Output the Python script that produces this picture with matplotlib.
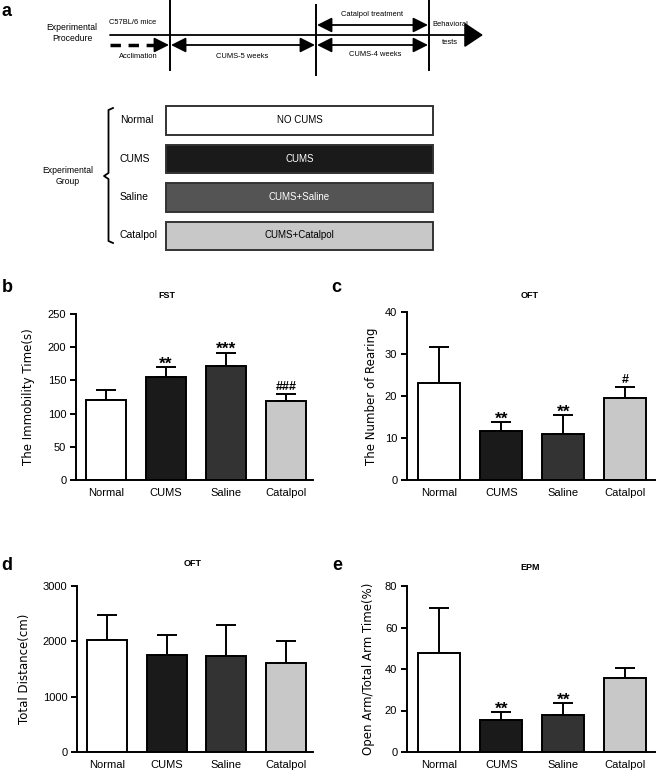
import numpy as np
import matplotlib.pyplot as plt
from matplotlib.patches import FancyArrowPatch, Rectangle

plt.rcParams['font.family'] = ['Liberation Sans', 'DejaVu Sans']
NARROW = ['Liberation Sans Narrow', 'Liberation Sans', 'DejaVu Sans']

W, H = 658, 772

groups = ['Normal', 'CUMS', 'Saline', 'Catalpol']
bar_colors = ['#ffffff', '#1a1a1a', '#333333', '#c8c8c8']

# panel a: experimental groups
box_texts = ['NO CUMS', 'CUMS', 'CUMS+Saline', 'CUMS+Catalpol']
box_colors = ['#ffffff', '#1a1a1a', '#545454', '#c8c8c8']
box_text_colors = ['black', 'white', 'white', 'black']

# panel b: FST immobility time (s)
fst_mean = [120.5, 154.6, 171.7, 118.5]
fst_err = [15.0, 15.1, 20.1, 10.5]
fst_marks = ['', '**', '***', '###']

# panel c: OFT number of rearing
rear_mean = [23.2, 11.7, 11.0, 19.6]
rear_err = [8.4, 2.0, 4.5, 2.5]
rear_marks = ['', '**', '**', '#']

# panel d: OFT total distance (cm)
dist_mean = [2024, 1753, 1735, 1603]
dist_err = [452, 361, 555, 397]
dist_marks = ['', '', '', '']

# panel e: EPM open arm / total arm time (%)
epm_mean = [47.9, 15.4, 17.8, 35.8]
epm_err = [21.3, 3.7, 5.7, 4.8]
epm_marks = ['', '**', '**', '']

fig = plt.figure(figsize=(W / 100, H / 100), dpi=100)

# overlay in pixel coordinates for the scheme, titles and panel letters
ov = fig.add_axes([0, 0, 1, 1])
ov.set_xlim(0, W)
ov.set_ylim(H, 0)
ov.axis('off')


def arrow(p0, p1, style, lw=1.3, ms=10):
    ov.add_patch(FancyArrowPatch(p0, p1, arrowstyle=style, mutation_scale=ms,
                                 lw=lw, color='black', shrinkA=0, shrinkB=0))


# ---- panel a: procedure timeline
arrow((110, 35), (483, 35), '-|>,head_length=0.9,head_width=0.6', ms=13)
for x, y0, y1 in [(170, 0, 70), (316, 5, 75), (429, 0, 70)]:
    ov.plot([x, x], [y0, y1], color='black', lw=1.4)
ov.plot([110, 158], [45, 45], color='black', lw=2.5, ls=(0, (3, 2.2)))
arrow((155, 45), (169, 45), '-|>,head_length=0.9,head_width=0.45')
dbl = '<|-|>,head_length=0.9,head_width=0.45'
arrow((171, 45), (315, 45), dbl)
arrow((317, 45), (428, 45), dbl)
arrow((317, 25), (428, 25), dbl)

ov.text(72, 33, 'Experimental\nProcedure', ha='center', va='center',
        fontsize=6.2, family=NARROW, linespacing=1.4)
for x, y, s in [(133, 22, 'C57BL/6 mice'), (138, 56, 'Acclimation'),
                (242, 56, 'CUMS-5 weeks'), (375, 55, 'CUMS-4 weeks'),
                (372, 15, 'Catalpol treatment'), (450, 25, 'Behavioral'),
                (450, 43, 'tests')]:
    ov.text(x, y, s, ha='center', va='center', fontsize=5.4, family=NARROW)

# ---- panel a: groups
for i, g in enumerate(groups):
    top = 106 + i * 38.5
    ov.add_patch(Rectangle((166, top), 267, 28.5, facecolor=box_colors[i],
                           edgecolor='#333333', lw=1.4))
    ov.text(299.5, top + 14, box_texts[i], ha='center', va='center',
            fontsize=7, color=box_text_colors[i])
    ov.text(120, top + 14, g, ha='left', va='center', fontsize=7.5)

ov.plot([113, 108.5, 108.5, 104, 108.5, 108.5, 113],
        [108, 110, 173, 176, 179, 241, 243], color='black', lw=1.3)
ov.text(68, 176, 'Experimental\nGroup', ha='center', va='center',
        fontsize=6.2, family=NARROW, linespacing=1.4)

# panel letters and titles
for x, y, s in [(7, 12, 'a'), (7, 288, 'b'), (336, 287, 'c'),
                (7, 565, 'd'), (337, 566, 'e')]:
    ov.text(x, y, s, ha='center', va='center', fontsize=13, fontweight='bold')
for x, y, s in [(167, 295, 'FST'), (530, 295, 'OFT'),
                (193, 564, 'OFT'), (530, 567, 'EPM')]:
    ov.text(x, y, s, ha='center', va='center', fontsize=6.5, fontweight='bold')


def px_axes(left, top, right, bottom):
    return fig.add_axes([left / W, 1 - bottom / H, (right - left) / W, (bottom - top) / H])


def bar_panel(ax, means, errs, marks, ymax, step, ylabel, xlim, label_x, width):
    x = np.arange(len(groups))
    ax.set_facecolor('none')
    ax.errorbar(x, means, yerr=[np.zeros(len(x)), errs], fmt='none', ecolor='black',
                elinewidth=1.4, capsize=7, capthick=1.4, zorder=1)
    ax.bar(x, means, width=width, color=bar_colors, edgecolor='black', lw=1.4, zorder=2)
    for xi, m, e, s in zip(x, means, errs, marks):
        if not s:
            continue
        if s[0] == '*':
            ax.annotate(s, (xi, m + e), xytext=(0, -1), textcoords='offset points',
                        ha='center', va='baseline', fontsize=12.5, fontweight='bold')
        else:
            ax.annotate(s, (xi, m + e), xytext=(0, 3), textcoords='offset points',
                        ha='center', va='baseline', fontsize=9, fontweight='bold')
    ax.set_ylim(0, ymax)
    ax.set_yticks(np.arange(0, ymax + 1, step))
    ax.set_xlim(*xlim)
    ax.set_xticks(x, groups)
    for sp in ['top', 'right']:
        ax.spines[sp].set_visible(False)
    for sp in ['left', 'bottom']:
        ax.spines[sp].set_linewidth(1.4)
    ax.tick_params(axis='x', length=0, pad=6, labelsize=8)
    ax.tick_params(axis='y', length=4, width=1.4, pad=3, labelsize=8)
    ax.set_ylabel(ylabel, fontsize=8.5, family=['DejaVu Sans'])
    ax.yaxis.set_label_coords(label_x, 0.5)


left_xlim = (-0.5, 3.45)
right_xlim = (-0.52, 3.48)

ax_b = px_axes(76, 314, 313, 480)
bar_panel(ax_b, fst_mean, fst_err, fst_marks, 250, 50, 'The Immobility Time(s)',
          left_xlim, (35 - 76) / 237, 0.667)

ax_c = px_axes(407, 312, 655, 480)
bar_panel(ax_c, rear_mean, rear_err, rear_marks, 40, 10, 'The Number of Rearing',
          right_xlim, (378 - 407) / 248, 0.68)

ax_d = px_axes(77, 586, 313, 752)
bar_panel(ax_d, dist_mean, dist_err, dist_marks, 3000, 1000, 'Total Distance(cm)',
          left_xlim, (31 - 77) / 236, 0.667)

ax_e = px_axes(407, 586, 655, 752)
bar_panel(ax_e, epm_mean, epm_err, epm_marks, 80, 20, 'Open Arm/Total Arm Time(%)',
          right_xlim, (375 - 407) / 248, 0.68)

fig.savefig('out.png', dpi=100)
